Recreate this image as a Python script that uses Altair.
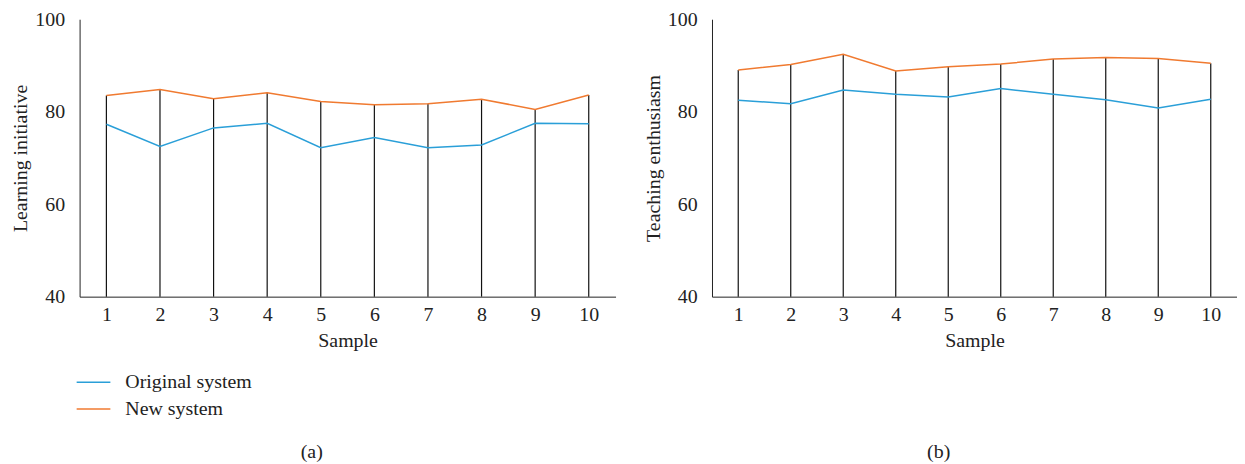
import altair as alt
import pandas as pd

samples = [1, 2, 3, 4, 5, 6, 7, 8, 9, 10]
learn_original = [77.3, 72.5, 76.5, 77.5, 72.2, 74.4, 72.2, 72.8, 77.5, 77.4]
learn_new = [83.5, 84.8, 82.8, 84.1, 82.2, 81.5, 81.7, 82.7, 80.5, 83.6]
teach_original = [82.5, 81.7, 84.7, 83.8, 83.2, 85.0, 83.8, 82.6, 80.8, 82.7]
teach_new = [89.0, 90.2, 92.4, 88.8, 89.7, 90.3, 91.4, 91.7, 91.5, 90.5]

series_names = ["Original system", "New system"]
colors = ["#2a9fd8", "#f07a30"]
FONT = "Liberation Serif"
FS = 20


def panel(orig, new, ytitle, label):
    long = pd.DataFrame({
        "Sample": samples * 2,
        "value": orig + new,
        "series": [series_names[0]] * len(samples) + [series_names[1]] * len(samples),
    })
    rules = pd.DataFrame({"Sample": samples, "top": new, "base": [40] * len(samples)})

    x = alt.X("Sample:Q",
              scale=alt.Scale(domain=[0.5, 10.5], nice=False, zero=False),
              axis=alt.Axis(values=samples, title="Sample", ticks=False, grid=False,
                            domainColor="#222222", labelPadding=8, titlePadding=6))
    rule = alt.Chart(rules).mark_rule(color="#111111", strokeWidth=1.2).encode(
        x=x,
        y=alt.Y("top:Q",
                scale=alt.Scale(domain=[40, 100], nice=False, zero=False),
                axis=alt.Axis(values=[40, 60, 80, 100], title=ytitle, ticks=False, grid=False,
                              domainColor="#222222", labelPadding=15, titlePadding=4)),
        y2="base:Q",
    )
    lines = alt.Chart(long).mark_line(strokeWidth=1.5).encode(
        x=x,
        y=alt.Y("value:Q"),
        color=alt.Color("series:N",
                        scale=alt.Scale(domain=series_names, range=colors),
                        legend=alt.Legend(title=None, orient="none", legendX=-4, legendY=355,
                                          symbolType="stroke", symbolSize=1150,
                                          symbolStrokeWidth=1.5, labelOffset=14,
                                          clipHeight=20, rowPadding=7,
                                          labelFontSize=FS, labelFont=FONT,
                                          labelColor="#222222")),
        order="Sample:Q",
    )
    return alt.layer(rule, lines).properties(
        width=539, height=279,
        title=alt.TitleParams(label, orient="bottom", offset=92, fontSize=FS, dx=-36,
                              font=FONT, fontWeight="normal", color="#222222"),
    )


left = panel(learn_original, learn_new, "Learning initiative", "(a)")
right = panel(teach_original, teach_new, "Teaching enthusiasm", "(b)").properties(width=528)

chart = alt.hconcat(left, right, spacing=28).configure_view(stroke=None).configure_axis(
    labelFont=FONT, titleFont=FONT, labelFontSize=FS, titleFontSize=FS,
    titleFontWeight="normal", labelColor="#222222", titleColor="#222222",
).properties(padding={"left": 3, "top": 0, "right": 0, "bottom": 0})

chart.save("out.html", embed_options={"renderer": "svg", "actions": False})
